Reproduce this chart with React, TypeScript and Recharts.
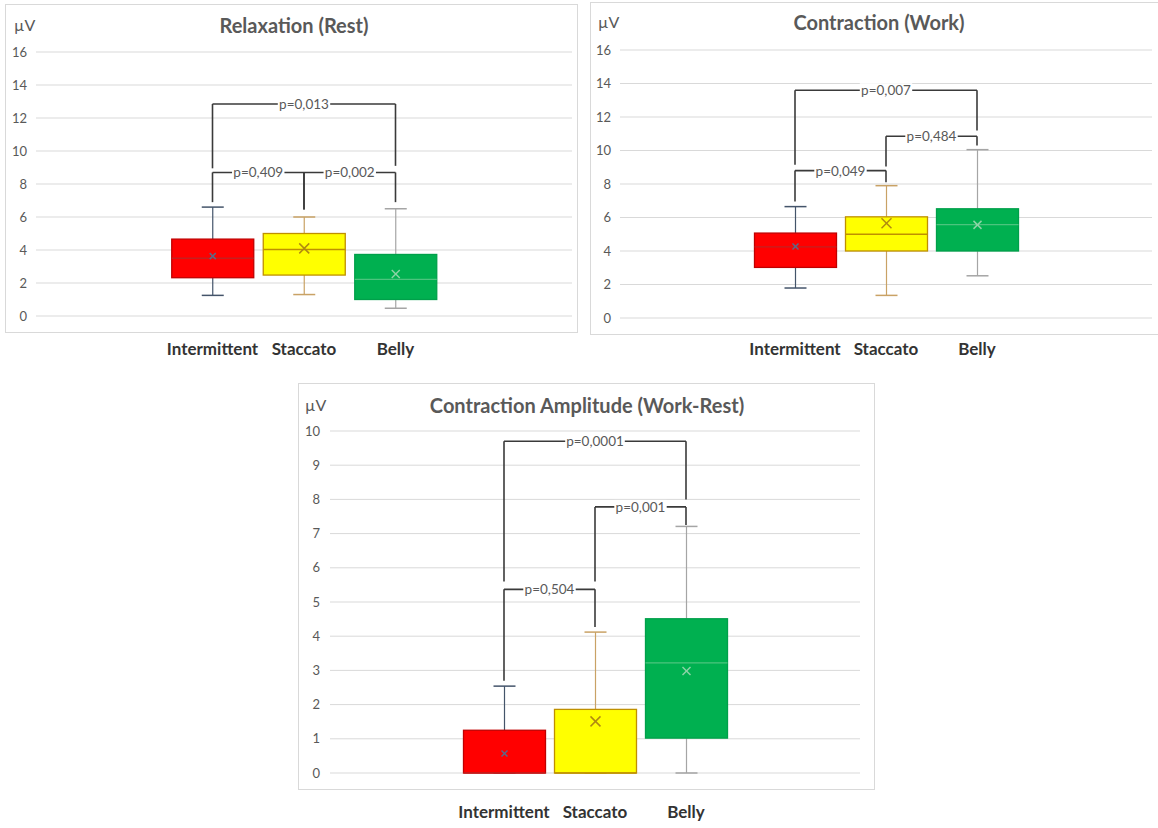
import React from 'react'
import { Bar, CartesianGrid, ComposedChart, ReferenceLine, XAxis, YAxis } from 'recharts'

const FONT = 'Lato, "Open Sans", sans-serif'

const categories = ['Intermittent', 'Staccato', 'Belly']

// Relaxation (rest), µV
const restMin = [1.25, 1.3, 0.47]
const restQ1 = [2.32, 2.48, 1.0]
const restMedian = [3.5, 4.03, 2.22]
const restQ3 = [4.66, 5.0, 3.73]
const restMax = [6.6, 6.0, 6.5]
const restMean = [3.63, 4.1, 2.54]
const restTicks = [0, 2, 4, 6, 8, 10, 12, 14, 16]

// Contraction (work), µV
const workMin = [1.79, 1.35, 2.52]
const workQ1 = [3.02, 4.0, 4.0]
const workMedian = [4.25, 5.0, 5.58]
const workQ3 = [5.07, 6.04, 6.52]
const workMax = [6.65, 7.9, 10.05]
const workMean = [4.27, 5.66, 5.56]
const workTicks = [0, 2, 4, 6, 8, 10, 12, 14, 16]

// Contraction amplitude (work - rest), µV
const ampMin = [0, 0, 0]
const ampQ1 = [0, 0, 1.02]
const ampMedian = [0, 0, 3.22]
const ampQ3 = [1.25, 1.86, 4.51]
const ampMax = [2.54, 4.12, 7.21]
const ampMean = [0.57, 1.51, 2.98]
const ampTicks = [0, 1, 2, 3, 4, 5, 6, 7, 8, 9, 10]

// significance brackets: pair, bar level, and where each leg stops
const restBrackets = [
  { from: 'Intermittent', to: 'Belly', y: 12.85, fromEnd: 8.95, toEnd: 9.1, label: 'p=0,013' },
  { from: 'Intermittent', to: 'Staccato', y: 8.7, fromEnd: 6.9, toEnd: 6.45, label: 'p=0,409' },
  { from: 'Staccato', to: 'Belly', y: 8.7, fromEnd: 6.45, toEnd: 6.9, label: 'p=0,002' },
]
const workBrackets = [
  { from: 'Intermittent', to: 'Belly', y: 13.6, fromEnd: 9.15, toEnd: 11.2, label: 'p=0,007' },
  { from: 'Staccato', to: 'Belly', y: 10.85, fromEnd: 9.05, toEnd: 10.3, label: 'p=0,484' },
  { from: 'Intermittent', to: 'Staccato', y: 8.8, fromEnd: 6.95, toEnd: 8.1, label: 'p=0,049' },
]
const ampBrackets = [
  { from: 'Intermittent', to: 'Belly', y: 9.7, fromEnd: 5.6, toEnd: 8.0, label: 'p=0,0001' },
  { from: 'Staccato', to: 'Belly', y: 7.78, fromEnd: 5.6, toEnd: 7.25, label: 'p=0,001' },
  { from: 'Intermittent', to: 'Staccato', y: 5.37, fromEnd: 2.7, toEnd: 4.27, label: 'p=0,504' },
]

const seriesStyle: Record<string, any> = {
  Intermittent: { fill: '#ff0000', stroke: '#c00000', median: '#c42020', whisker: '#44546a', mean: '#5a6a8a', mark: 3 },
  Staccato: { fill: '#ffff00', stroke: '#bf9000', median: '#bf9000', whisker: '#c9a265', mean: '#b08a10', mark: 5 },
  Belly: { fill: '#00b050', stroke: '#00a04a', median: '#4cc47e', whisker: '#a5a5a5', mean: '#8fd3a8', mark: 4 },
}

type Bracket = { from: string; to: string; y: number; fromEnd: number; toEnd: number; label: string }

function buildRows(mn: number[], q1: number[], med: number[], q3: number[], mx: number[], mean: number[]) {
  return categories.map((name, i) => ({
    name,
    box: [q1[i], q3[i]],
    min: mn[i],
    q1: q1[i],
    median: med[i],
    q3: q3[i],
    max: mx[i],
    mean: mean[i],
  }))
}

// box, whiskers, median and mean, scaled from the bar's own q1..q3 rectangle
function BoxShape(props: any) {
  const { x, y, width, height, payload } = props
  const s = seriesStyle[payload.name]
  const top = Math.min(y, y + height)
  const h = Math.abs(height)
  const unit = h / (payload.q3 - payload.q1)
  const py = (v: number) => top + (payload.q3 - v) * unit
  const cx = x + width / 2
  const cap = 11
  const m = s.mark
  const my = py(payload.mean)
  return (
    <g>
      <line x1={cx} x2={cx} y1={py(payload.q3)} y2={py(payload.max)} stroke={s.whisker} strokeWidth={1.2} />
      <line x1={cx - cap} x2={cx + cap} y1={py(payload.max)} y2={py(payload.max)} stroke={s.whisker} strokeWidth={1.5} />
      <line x1={cx} x2={cx} y1={py(payload.q1)} y2={py(payload.min)} stroke={s.whisker} strokeWidth={1.2} />
      <line x1={cx - cap} x2={cx + cap} y1={py(payload.min)} y2={py(payload.min)} stroke={s.whisker} strokeWidth={1.5} />
      <rect x={x} y={top} width={width} height={h} fill={s.fill} stroke={s.stroke} strokeWidth={1.3} />
      <line x1={x} x2={x + width} y1={py(payload.median)} y2={py(payload.median)} stroke={s.median} strokeWidth={1.3} />
      <line x1={cx - m} x2={cx + m} y1={my - m} y2={my + m} stroke={s.mean} strokeWidth={1.5} />
      <line x1={cx - m} x2={cx + m} y1={my + m} y2={my - m} stroke={s.mean} strokeWidth={1.5} />
    </g>
  )
}

const bracketLabel = (text: string) => (props: any) => {
  const vb = props.viewBox || {}
  const cx = (vb.x ?? 0) + (vb.width ?? 0) / 2
  const cy = vb.y ?? 0
  const w = text.length * 7.2 + 2
  return (
    <g>
      <rect x={cx - w / 2} y={cy - 7} width={w} height={14} fill="#fff" />
      <text x={cx} y={cy} textAnchor="middle" dominantBaseline="central" fill="#595959" fontSize={13.5} fontFamily={FONT}>
        {text}
      </text>
    </g>
  )
}

function renderBrackets(list: Bracket[]) {
  const line = { stroke: '#3a3a3a', strokeWidth: 1.6, ifOverflow: 'visible' as const }
  return list.flatMap((b, i) => [
    <ReferenceLine key={`l${i}`} segment={[{ x: b.from, y: b.y }, { x: b.from, y: b.fromEnd }]} {...line} />,
    <ReferenceLine key={`r${i}`} segment={[{ x: b.to, y: b.y }, { x: b.to, y: b.toEnd }]} {...line} />,
    <ReferenceLine key={`h${i}`} segment={[{ x: b.from, y: b.y }, { x: b.to, y: b.y }]} {...line} label={bracketLabel(b.label)} />,
  ])
}

type PanelProps = {
  title: string
  rows: any[]
  brackets: Bracket[]
  ticks: number[]
  left: number
  top: number
  width: number
  height: number
  margin: { top: number; right: number; bottom: number; left: number }
  xHeight: number
  pad: number
  xTickMargin: number
  yTickMargin: number
  frame: { left: number; top: number; width: number; height: number }
  titleX: number
  titleY: number
  unitX: number
}

function BoxPanel(p: PanelProps) {
  return (
    <>
      <div
        style={{
          position: 'absolute',
          left: p.frame.left,
          top: p.frame.top,
          width: p.frame.width,
          height: p.frame.height,
          border: '1px solid #d9d9d9',
          boxSizing: 'border-box',
        }}
      />
      <div
        style={{
          position: 'absolute',
          left: p.titleX - 250,
          top: p.titleY - 12,
          width: 500,
          lineHeight: '24px',
          textAlign: 'center',
          fontFamily: FONT,
          fontWeight: 700,
          fontSize: 20,
          color: '#595959',
        }}
      >
        {p.title}
      </div>
      <div
        style={{
          position: 'absolute',
          left: p.unitX,
          top: p.titleY - 10,
          lineHeight: '20px',
          fontFamily: FONT,
          fontSize: 16,
          color: '#595959',
        }}
      >
        µV
      </div>
      <div style={{ position: 'absolute', left: p.left, top: p.top }}>
        <ComposedChart width={p.width} height={p.height} data={p.rows} margin={p.margin}>
          <CartesianGrid horizontal vertical={false} stroke="#d9d9d9" />
          <XAxis
            dataKey="name"
            type="category"
            height={p.xHeight}
            padding={{ left: p.pad, right: p.pad }}
            axisLine={false}
            tickLine={false}
            tickSize={0}
            tickMargin={p.xTickMargin}
            interval={0}
            tick={{ fill: '#333333', fontSize: 17, fontWeight: 700, fontFamily: FONT }}
          />
          <YAxis
            type="number"
            width={30}
            domain={[p.ticks[0], p.ticks[p.ticks.length - 1]]}
            ticks={p.ticks}
            axisLine={false}
            tickLine={false}
            tickSize={0}
            tickMargin={p.yTickMargin}
            tick={{ fill: '#595959', fontSize: 13, fontFamily: FONT }}
          />
          <Bar dataKey="box" barSize={82} shape={BoxShape} isAnimationActive={false} />
          {renderBrackets(p.brackets)}
        </ComposedChart>
      </div>
    </>
  )
}

export default function App() {
  const rest = buildRows(restMin, restQ1, restMedian, restQ3, restMax, restMean)
  const work = buildRows(workMin, workQ1, workMedian, workQ3, workMax, workMean)
  const amp = buildRows(ampMin, ampQ1, ampMedian, ampQ3, ampMax, ampMean)
  return (
    <div
      style={{
        position: 'absolute',
        left: 0,
        top: 0,
        width: 1158,
        height: 828,
        overflow: 'hidden',
        background: '#fff',
      }}
    >
      <BoxPanel
        title="Relaxation (Rest)"
        rows={rest}
        brackets={restBrackets}
        ticks={restTicks}
        left={0}
        top={0}
        width={580}
        height={370}
        margin={{ top: 52, right: 8, bottom: 0, left: 6 }}
        xHeight={54}
        pad={130.75}
        xTickMargin={27}
        yTickMargin={9}
        frame={{ left: 5, top: 4, width: 573, height: 329 }}
        titleX={294}
        titleY={25}
        unitX={14}
      />
      <BoxPanel
        title="Contraction (Work)"
        rows={work}
        brackets={workBrackets}
        ticks={workTicks}
        left={580}
        top={0}
        width={578}
        height={370}
        margin={{ top: 50, right: 6, bottom: 0, left: 10 }}
        xHeight={52}
        pad={129.5}
        xTickMargin={25}
        yTickMargin={9}
        frame={{ left: 590, top: 2, width: 572, height: 333 }}
        titleX={879}
        titleY={22}
        unitX={598}
      />
      <BoxPanel
        title="Contraction Amplitude (Work-Rest)"
        rows={amp}
        brackets={ampBrackets}
        ticks={ampTicks}
        left={290}
        top={380}
        width={600}
        height={448}
        margin={{ top: 51, right: 30, bottom: 0, left: 10 }}
        xHeight={55}
        pad={128.5}
        xTickMargin={33}
        yTickMargin={10}
        frame={{ left: 298, top: 383, width: 577, height: 407 }}
        titleX={587}
        titleY={405}
        unitX={305}
      />
    </div>
  )
}
